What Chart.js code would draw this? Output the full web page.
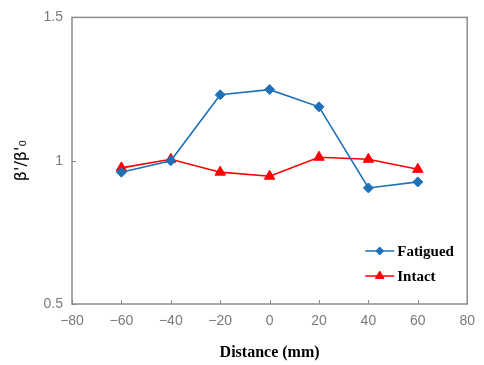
<!DOCTYPE html>
<html>
<head>
<meta charset="utf-8">
<script src="https://cdn.jsdelivr.net/npm/chart.js@4"></script>
<style>
  html, body { margin: 0; padding: 0; background: #fff; }
  #wrap { width: 484px; height: 365px; }
</style>
</head>
<body>
<div id="wrap"><canvas id="c" width="484" height="365"></canvas></div>
<script>
// ----- data -----
const distance = [-60, -40, -20, 0, 20, 40, 60]; // mm
const fatigued = [0.960, 1.000, 1.230, 1.248, 1.188, 0.905, 0.926];
const intact = [0.975, 1.005, 0.960, 0.946, 1.012, 1.005, 0.970];
const xTicks = [-80, -60, -40, -20, 0, 20, 40, 60, 80];
const yTicks = [0.5, 1, 1.5];

const BLUE = '#1f70b6';
const RED = '#ff0000';
const AXIS = '#8a8a8a';

const pts = ys => distance.map((x, i) => ({ x, y: ys[i] }));

// frame + inward tick marks
const framePlugin = {
  id: 'frame',
  afterDatasetsDraw(chart) {
    const { ctx, chartArea: a, scales } = chart;
    ctx.save();
    ctx.strokeStyle = AXIS;
    ctx.lineWidth = 1.5;
    ctx.strokeRect(a.left, a.top, a.right - a.left, a.bottom - a.top);
    ctx.lineWidth = 1;
    ctx.beginPath();
    xTicks.forEach(v => {
      const px = Math.round(scales.x.getPixelForValue(v)) + 0.5;
      ctx.moveTo(px, a.bottom);
      ctx.lineTo(px, a.bottom - 4);
    });
    yTicks.forEach(v => {
      const py = Math.round(scales.y.getPixelForValue(v)) + 0.5;
      ctx.moveTo(a.left, py);
      ctx.lineTo(a.left + 4, py);
    });
    ctx.stroke();
    ctx.restore();
  }
};

// legend drawn inside plot, lower right
const legendPlugin = {
  id: 'innerLegend',
  afterDraw(chart) {
    const { ctx, chartArea: a } = chart;
    ctx.save();
    chart.data.datasets.forEach((ds, i) => {
      const y = a.bottom - 53 + i * 25;
      const x0 = a.right - 102;
      ctx.strokeStyle = ds.borderColor;
      ctx.fillStyle = ds.backgroundColor;
      ctx.lineWidth = 1.5;
      ctx.beginPath();
      ctx.moveTo(x0, y);
      ctx.lineTo(x0 + 29, y);
      ctx.stroke();
      ctx.lineWidth = 1;
      Chart.helpers.drawPoint(ctx, {
        pointStyle: ds.pointStyle,
        radius: ds.pointRadius - 1,
        borderWidth: 1
      }, x0 + 14.5, y);
      ctx.fillStyle = '#000';
      ctx.font = 'bold 15px "Liberation Serif"';
      ctx.textBaseline = 'middle';
      ctx.fillText(ds.label, x0 + 32, y + 1);
    });
    ctx.restore();
  }
};

new Chart(document.getElementById('c'), {
  type: 'line',
  data: {
    datasets: [
      {
        label: 'Fatigued',
        data: pts(fatigued),
        borderColor: BLUE,
        backgroundColor: BLUE,
        borderWidth: 1.6,
        pointStyle: 'rectRot',
        pointRadius: 5,
        pointBorderWidth: 1,
        tension: 0
      },
      {
        label: 'Intact',
        data: pts(intact),
        borderColor: RED,
        backgroundColor: RED,
        borderWidth: 1.6,
        pointStyle: 'triangle',
        pointRadius: 6,
        pointBorderWidth: 1,
        tension: 0
      }
    ]
  },
  options: {
    responsive: false,
    animation: false,
    layout: { padding: { left: 0, top: 15, right: 9, bottom: 0 } },
    plugins: { legend: { display: false }, tooltip: { enabled: false } },
    scales: {
      x: {
        type: 'linear',
        min: -80,
        max: 80,
        afterBuildTicks: s => { s.ticks = xTicks.map(v => ({ value: v })); },
        afterFit: s => { s.height = 61; },
        grid: { display: false, drawTicks: false },
        border: { display: false },
        ticks: {
          padding: 9,
          color: '#7a7a7a',
          font: { family: 'Liberation Sans', size: 14 },
          callback: v => String(v).replace('-', '\u2212')
        },
        title: {
          display: true,
          text: 'Distance (mm)',
          color: '#000',
          font: { family: 'Liberation Serif', size: 16, weight: 'bold' },
          padding: { top: 0, bottom: 3 }
        }
      },
      y: {
        min: 0.5,
        max: 1.5,
        afterBuildTicks: s => { s.ticks = yTicks.map(v => ({ value: v })); },
        afterFit: s => { s.width = 72; },
        grid: { display: false, drawTicks: false },
        border: { display: false },
        ticks: {
          padding: 9,
          color: '#7a7a7a',
          font: { family: 'Liberation Sans', size: 14 },
          callback: v => String(v)
        },
        title: {
          display: true,
          text: 'β\'/β\'\u2080',
          color: '#000',
          font: { family: 'DejaVu Sans', size: 16 },
          padding: { top: 12, bottom: 0 }
        }
      }
    }
  },
  plugins: [framePlugin, legendPlugin]
});
</script>
</body>
</html>
